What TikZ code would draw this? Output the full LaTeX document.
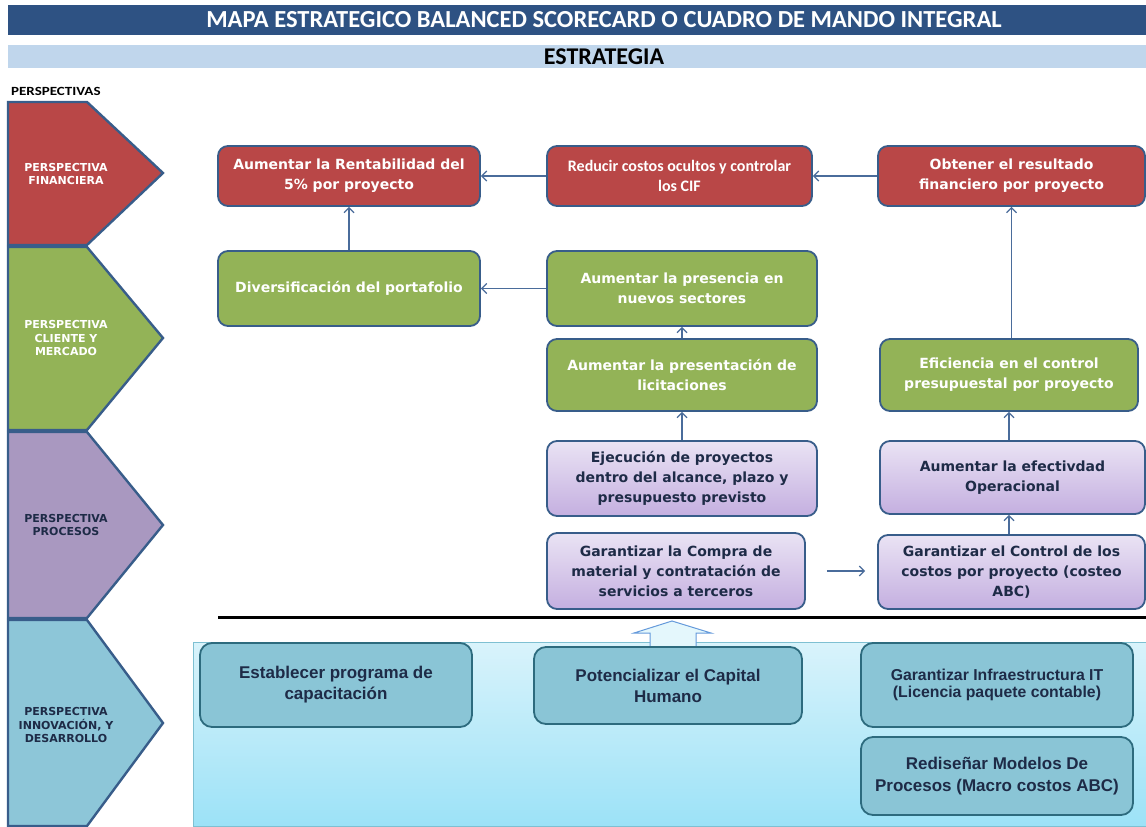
\documentclass[tikz,border=0pt]{standalone}
\usepackage{fontspec}
\setmainfont{DejaVu Sans}
\newfontfamily\calfont{Carlito}
\newfontfamily\calwide{Carlito}[FakeStretch=1.2]
\newfontfamily\arialfont{Liberation Sans}
\usetikzlibrary{arrows.meta}

\definecolor{navybar}{HTML}{2E5283}
\definecolor{lightbar}{HTML}{C0D6EC}
\definecolor{edgeblue}{HTML}{385D8A}
\definecolor{finred}{HTML}{B94747}
\definecolor{cligreen}{HTML}{93B357}
\definecolor{procpurple}{HTML}{A998C0}
\definecolor{innoblue}{HTML}{8DC6D8}
\definecolor{lavtop}{HTML}{EAE3F4}
\definecolor{lavbot}{HTML}{C4AFE0}
\definecolor{darktext}{HTML}{1E2B47}
\definecolor{tealfill}{HTML}{8AC5D6}
\definecolor{tealedge}{HTML}{2D6B7E}
\definecolor{panetop}{HTML}{D9F3FB}
\definecolor{panebot}{HTML}{9CE2F7}
\definecolor{paneedge}{HTML}{7EC0D2}
\definecolor{connblue}{HTML}{4A6C9B}

\tikzset{
  pent/.style={draw=edgeblue, line width=2.4pt, line join=miter},
  sidelabel/.style={align=center, font=\fontsize{11}{13.5}\selectfont\bfseries},
  objbox/.style={draw=edgeblue, line width=1.8pt, rounded corners=10pt, align=center,
    font=\fontsize{14}{20}\selectfont\bfseries, inner sep=2pt},
  redbox/.style={objbox, fill=finred, text=white},
  greenbox/.style={objbox, fill=cligreen, text=white},
  purplebox/.style={objbox, top color=lavtop, bottom color=lavbot, text=darktext},
  tealbox/.style={draw=tealedge, line width=1.8pt, rounded corners=12pt, fill=tealfill,
    align=center, text=darktext, font=\arialfont\fontsize{17}{21}\selectfont\bfseries},
  conn/.style={draw=connblue, line width=1.2pt, -{Straight Barb[length=5pt,width=10pt]}},
}

\begin{document}
\begin{tikzpicture}[x=1pt, y=-1pt]
\useasboundingbox (0,0) rectangle (1146,827);
\fill[white] (0,0) rectangle (1146,827);

% header bars
\fill[navybar] (8,5) rectangle (1146,35);
\node[text=white, font=\calfont\fontsize{24.5}{27}\selectfont\bfseries] (title) at (604,20)
  {MAPA ESTRATEGICO BALANCED SCORECARD O CUADRO DE MANDO INTEGRAL};
\fill[lightbar] (8,45) rectangle (1146,68);
\node[text=black, font=\calfont\fontsize{24}{26}\selectfont\bfseries] (estr) at (604,57) {ESTRATEGIA};
\node[anchor=west, font=\calwide\fontsize{12.5}{14}\selectfont\bfseries, inner sep=0pt] (persp) at (11,91) {PERSPECTIVAS};

% perspective arrows on the left
\draw[pent, fill=finred] (8,102) -- (87,102) -- (163,173) -- (87,245) -- (8,245) -- cycle;
\draw[pent, fill=cligreen] (8,247) -- (87,247) -- (163,338) -- (87,430) -- (8,430) -- cycle;
\draw[pent, fill=procpurple] (8,432) -- (87,432) -- (163,525) -- (87,618) -- (8,618) -- cycle;
\draw[pent, fill=innoblue] (8,620) -- (87,620) -- (163,723) -- (87,826) -- (8,826) -- cycle;

\node[sidelabel, text=white] (lfin) at (66,174) {PERSPECTIVA\\FINANCIERA};
\node[sidelabel, text=white] (lcli) at (66,338) {PERSPECTIVA\\CLIENTE Y\\MERCADO};
\node[sidelabel, text=darktext] (lpro) at (66,525) {PERSPECTIVA\\PROCESOS};
\node[sidelabel, text=darktext] (linn) at (66,725) {PERSPECTIVA\\INNOVACIÓN, Y\\DESARROLLO};

% learning and growth panel
\shade[top color=panetop, bottom color=panebot] (193,642) rectangle (1146,826);
\draw[paneedge, line width=1pt] (193,642) rectangle (1146,826);
\draw[draw=paneedge!80!blue, fill=panetop!70!white, line width=1pt]
  (650,648) -- (650,633) -- (634,633) -- (672,621) -- (711,633) -- (696,633) -- (696,648);

% separator
\draw[black, line width=3pt] (218,617) -- (1146,617);

% financial objectives
\node[redbox, minimum width=262pt, minimum height=60pt] (r1) at (349,176)
  {Aumentar la Rentabilidad del\\5\% por proyecto};
\node[redbox, minimum width=265pt, minimum height=60pt,
  font=\calfont\fontsize{16}{20}\selectfont\bfseries] (r2) at (679.5,176)
  {Reducir costos ocultos y controlar\\los CIF};
\node[redbox, minimum width=267pt, minimum height=60pt] (r3) at (1011.5,176)
  {Obtener el resultado\\financiero por proyecto};

% customer objectives
\node[greenbox, minimum width=262pt, minimum height=75pt] (g1) at (349,288.5)
  {Diversificación del portafolio};
\node[greenbox, minimum width=270pt, minimum height=75pt] (g2) at (682,288.5)
  {Aumentar la presencia en\\nuevos sectores};
\node[greenbox, minimum width=270pt, minimum height=72pt] (g3) at (682,375)
  {Aumentar la presentación de\\licitaciones};
\node[greenbox, minimum width=258pt, minimum height=72pt] (g4) at (1009,375)
  {Eficiencia en el control\\presupuestal por proyecto};

% process objectives
\node[purplebox, minimum width=270pt, minimum height=75pt] (p1) at (682,478.5)
  {Ejecución de proyectos\\dentro del alcance, plazo y\\presupuesto previsto};
\node[purplebox, minimum width=265pt, minimum height=73pt] (p2) at (1012.5,477.5)
  {Aumentar la efectivdad\\Operacional};
\node[purplebox, minimum width=258pt, minimum height=76pt] (p3) at (676,571)
  {Garantizar la Compra de\\material y contratación de\\servicios a terceros};
\node[purplebox, minimum width=267pt, minimum height=74pt] (p4) at (1011.5,572)
  {Garantizar el Control de los\\costos por proyecto (costeo\\ABC)};

% learning and growth objectives
\node[tealbox, minimum width=272pt, minimum height=84pt] (b1) at (336,685)
  {Establecer programa de\\capacitación};
\node[tealbox, minimum width=268pt, minimum height=77pt] (b2) at (668,685.5)
  {Potencializar el Capital\\Humano};
\node[tealbox, minimum width=272pt, minimum height=84pt,
  font=\arialfont\fontsize{15.8}{17}\selectfont\bfseries] (b3) at (997,685)
  {Garantizar Infraestructura IT\\(Licencia paquete contable)};
\node[tealbox, minimum width=272pt, minimum height=78pt,
  font=\arialfont\fontsize{17}{22}\selectfont\bfseries] (b4) at (997,776)
  {Rediseñar Modelos De\\Procesos (Macro costos ABC)};

% cause and effect links
\draw[conn] (r2) -- (r1);
\draw[conn] (r3) -- (r2);
\draw[conn] (g1.north) -- (r1.south);
\draw[conn] (g2) -- (g1);
\draw[conn] (g3.north -| g2.south) -- (g2.south);
\draw[conn] (p1.north) -- (g3.south);
\draw[conn] (g4.north -| r3.south) -- (r3.south);
\draw[conn] (p2.north -| g4.south) -- (g4.south);
\draw[conn] (p4.north -| g4.south) -- (p2.south -| g4.south);
\draw[conn, shorten <=21pt, shorten >=12pt] (p3.east) -- (p4.west |- p3.east);
\end{tikzpicture}
\end{document}
